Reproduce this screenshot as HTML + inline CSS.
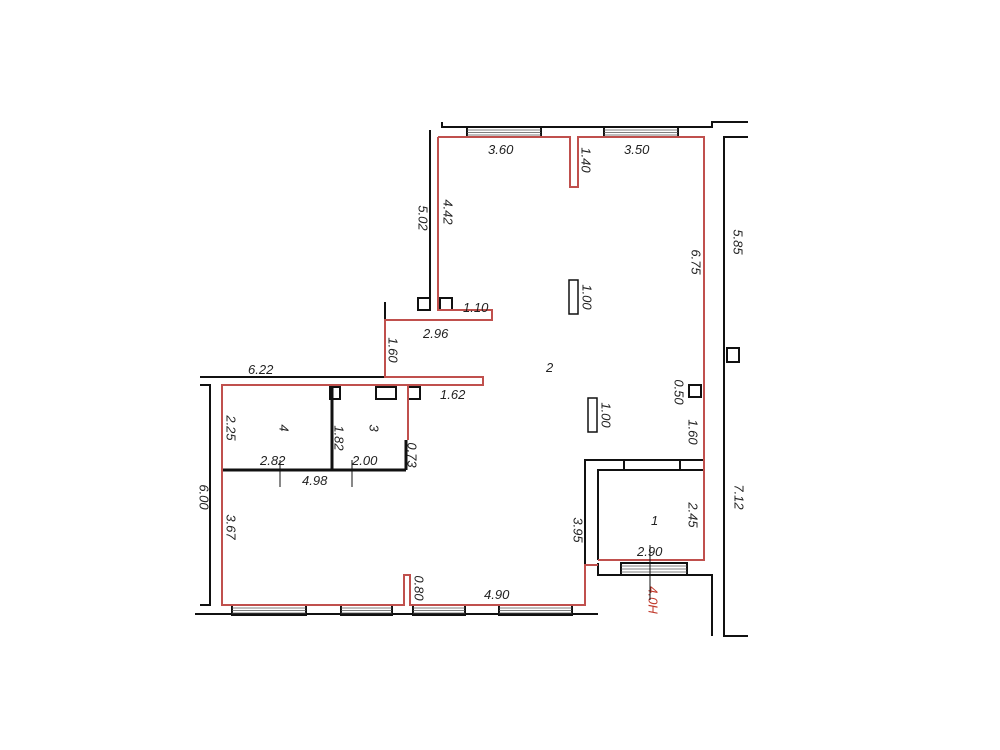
<!DOCTYPE html>
<html><head><meta charset="utf-8"><style>
body{margin:0;background:#fff}
svg{display:block}
text{font-family:"Liberation Sans",sans-serif;font-style:italic;font-size:13px;fill:#222}
.r text{text-anchor:middle;dominant-baseline:middle}
</style></head><body>
<svg width="1000" height="750" viewBox="0 0 1000 750" xmlns="http://www.w3.org/2000/svg">
<g fill="none" stroke="#111" stroke-width="2">
<polyline points="442,122 442,127 712,127 712,122 748,122"/>
<line x1="430" y1="130" x2="430" y2="302"/>
<polyline points="748,137 724,137 724,636 748,636"/>
<rect x="467" y="127" width="74" height="10"/>
<rect x="604" y="127" width="74" height="10"/>
<polyline points="385,302 385,377"/>
<polyline points="200,377 385,377"/>
<polyline points="200,385 210,385 210,605 200,605"/>
<polyline points="195,614 598,614"/>
<rect x="232" y="605" width="74" height="10"/>
<rect x="341" y="605" width="51" height="10"/>
<rect x="413" y="605" width="52" height="10"/>
<rect x="499" y="605" width="73" height="10"/>
<polyline points="585,570 585,460 704,460"/>
<polyline points="598,560 598,470 704,470"/>
<line x1="624" y1="460" x2="624" y2="470"/><line x1="680" y1="460" x2="680" y2="470"/>
<polyline points="598,563 598,575 712,575 712,636"/>
<rect x="621" y="563" width="66" height="12"/>
<polyline points="222,470 406,470" stroke-width="3"/>
<line x1="332" y1="385" x2="332" y2="470" stroke-width="3"/>
<line x1="406" y1="440" x2="406" y2="470" stroke-width="3"/>
<line x1="280" y1="460" x2="280" y2="487" stroke-width="1"/>
<line x1="352" y1="460" x2="352" y2="487" stroke-width="1"/>
<rect x="418" y="298" width="12" height="12"/>
<rect x="440" y="298" width="12" height="12"/>
<rect x="376" y="387" width="20" height="12"/>
<rect x="408" y="387" width="12" height="12"/>
<rect x="330" y="387" width="10" height="12"/>
<rect x="689" y="385" width="12" height="12"/>
<rect x="727" y="348" width="12" height="14"/>
<rect x="569" y="280" width="9" height="34" stroke-width="1.5"/>
<rect x="588" y="398" width="9" height="34" stroke-width="1.5"/>
</g>
<g stroke="#555" stroke-width="0.8">
<line x1="467" y1="130" x2="541" y2="130"/><line x1="467" y1="132.5" x2="541" y2="132.5"/><line x1="467" y1="135" x2="541" y2="135"/>
<line x1="604" y1="130" x2="678" y2="130"/><line x1="604" y1="132.5" x2="678" y2="132.5"/><line x1="604" y1="135" x2="678" y2="135"/>
<line x1="232" y1="608" x2="306" y2="608"/><line x1="232" y1="610.5" x2="306" y2="610.5"/><line x1="232" y1="613" x2="306" y2="613"/>
<line x1="341" y1="608" x2="392" y2="608"/><line x1="341" y1="610.5" x2="392" y2="610.5"/><line x1="341" y1="613" x2="392" y2="613"/>
<line x1="413" y1="608" x2="465" y2="608"/><line x1="413" y1="610.5" x2="465" y2="610.5"/><line x1="413" y1="613" x2="465" y2="613"/>
<line x1="499" y1="608" x2="572" y2="608"/><line x1="499" y1="610.5" x2="572" y2="610.5"/><line x1="499" y1="613" x2="572" y2="613"/>
<line x1="621" y1="566" x2="687" y2="566"/><line x1="621" y1="569" x2="687" y2="569"/><line x1="621" y1="572" x2="687" y2="572"/>
</g>
<g fill="none" stroke="#c0504d" stroke-width="2">
<polyline points="438,137 570,137 570,187 578,187 578,137 704,137 704,560 598,560"/>
<polyline points="438,137 438,310 492,310 492,320 385,320 385,377 483,377 483,385 222,385 222,605 404,605 404,575 410,575 410,605 585,605 585,565 598,565"/>
<polyline points="408,385 408,440"/>
</g>
<g>
<text x="488" y="154">3.60</text>
<text x="624" y="154">3.50</text>
<text x="423" y="338">2.96</text>
<text x="463" y="312">1.10</text>
<text x="248" y="374">6.22</text>
<text x="440" y="399">1.62</text>
<text x="260" y="465">2.82</text>
<text x="352" y="465">2.00</text>
<text x="302" y="485">4.98</text>
<text x="484" y="599">4.90</text>
<text x="637" y="556">2.90</text>
<text x="546" y="372">2</text>
<text x="651" y="525">1</text>
</g>
<g class="r">
<text transform="translate(283,428) rotate(90)">4</text>
<text transform="translate(373,428) rotate(90)">3</text>
<text transform="translate(422,218) rotate(90)">5.02</text>
<text transform="translate(447,212) rotate(90)">4.42</text>
<text transform="translate(585,160) rotate(90)">1.40</text>
<text transform="translate(695,262) rotate(90)">6.75</text>
<text transform="translate(737,242) rotate(90)">5.85</text>
<text transform="translate(586,297) rotate(90)">1.00</text>
<text transform="translate(605,415) rotate(90)">1.00</text>
<text transform="translate(392,350) rotate(90)">1.60</text>
<text transform="translate(678,392) rotate(90)">0.50</text>
<text transform="translate(692,432) rotate(90)">1.60</text>
<text transform="translate(692,515) rotate(90)">2.45</text>
<text transform="translate(738,497) rotate(90)">7.12</text>
<text transform="translate(230,428) rotate(90)">2.25</text>
<text transform="translate(338,438) rotate(90)">1.82</text>
<text transform="translate(411,455) rotate(90)">0.73</text>
<text transform="translate(203,497) rotate(90)">6.00</text>
<text transform="translate(230,527) rotate(90)">3.67</text>
<text transform="translate(577,530) rotate(90)">3.95</text>
<text transform="translate(418,588) rotate(90)">0.80</text>
<text transform="translate(652,600) rotate(90)" style="fill:#c0392b">4.0H</text>
</g>
<line x1="650" y1="545" x2="650" y2="600" stroke="#111" stroke-width="1"/>
</svg>
</body></html>
